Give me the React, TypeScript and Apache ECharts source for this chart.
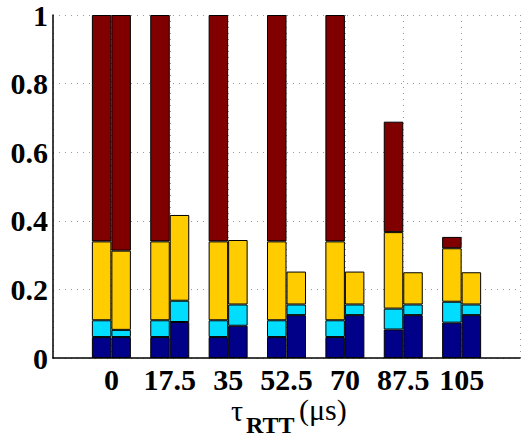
import React, { useEffect, useRef } from "react";
import * as echarts from "echarts";

// categories (tau_RTT in microseconds); outer empty entries pad the axis
const categories = ["", "0", "17.5", "35", "52.5", "70", "87.5", "105", ""];

// left bar of each pair: stacked segment heights
const leftNavy = [null, 0.061, 0.061, 0.061, 0.061, 0.061, 0.083, 0.103, null];
const leftCyan = [null, 0.049, 0.049, 0.049, 0.049, 0.049, 0.061, 0.061, null];
const leftGold = [null, 0.23, 0.23, 0.23, 0.23, 0.23, 0.223, 0.156, null];
const leftRed = [null, 0.66, 0.66, 0.66, 0.66, 0.66, 0.322, 0.033, null];

// right bar of each pair: stacked segment heights
const rightNavy = [null, 0.061, 0.105, 0.094, 0.125, 0.125, 0.125, 0.125, null];
const rightCyan = [null, 0.021, 0.062, 0.062, 0.031, 0.031, 0.031, 0.031, null];
const rightGold = [null, 0.231, 0.25, 0.188, 0.096, 0.096, 0.094, 0.094, null];
const rightRed = [null, 0.687, null, null, null, null, null, null, null];

const colors = { navy: "#000088", cyan: "#00DDFF", gold: "#FFCC00", red: "#800000" };
const serif = "Liberation Serif";

export default function App() {
  const ref = useRef<HTMLDivElement>(null);
  useEffect(() => {
    if (!ref.current) return;
    const chart = echarts.init(ref.current, null, { renderer: "svg" });
    const mk = (name: string, stack: string, data: any[], color: string) => ({
      name,
      type: "bar",
      stack,
      data,
      barWidth: 19.5,
      barGap: "0%",
      itemStyle: { color, borderColor: "#000", borderWidth: 1 },
    });
    chart.setOption({
      animation: false,
      grid: { left: 53, right: -7, top: 14, bottom: 79, containLabel: false },
      xAxis: {
        type: "category",
        data: categories,
        boundaryGap: false,
        axisLine: { show: true, lineStyle: { color: "#000", width: 1.5 } },
        axisTick: { show: false },
        axisLabel: {
          interval: 0,
          margin: 10,
          color: "#000",
          fontFamily: serif,
          fontWeight: "bold",
          fontSize: 30,
          lineHeight: 22,
        },
        splitLine: {
          show: true,
          interval: 0,
          lineStyle: { color: "#999", type: [1, 5], width: 1 },
        },
      },
      yAxis: {
        type: "value",
        min: 0,
        max: 1,
        interval: 0.2,
        axisLine: { show: true, lineStyle: { color: "#000", width: 1.5 } },
        axisTick: { show: false },
        axisLabel: {
          margin: 5,
          color: "#000",
          fontFamily: serif,
          fontWeight: "bold",
          fontSize: 30,
        },
        splitLine: {
          show: true,
          lineStyle: { color: "#999", type: [1, 5], width: 1 },
        },
      },
      graphic: [
        {
          type: "text",
          x: 231,
          y: 410,
          style: { text: "τ", font: "normal 30px Liberation Serif", lineHeight: 14, fill: "#000", align: "left", verticalAlign: "middle" },
        },
        {
          type: "text",
          x: 246,
          y: 425,
          style: { text: "RTT", font: "bold 24px Liberation Serif", lineHeight: 16, fill: "#000", align: "left", verticalAlign: "middle" },
        },
        {
          type: "text",
          x: 299,
          y: 409,
          style: { text: "(μs)", font: "normal 30px Liberation Serif", lineHeight: 18, fill: "#000", align: "left", verticalAlign: "middle" },
        },
      ],
      series: [
        mk("L1", "L", leftNavy, colors.navy),
        mk("L2", "L", leftCyan, colors.cyan),
        mk("L3", "L", leftGold, colors.gold),
        mk("L4", "L", leftRed, colors.red),
        mk("R1", "R", rightNavy, colors.navy),
        mk("R2", "R", rightCyan, colors.cyan),
        mk("R3", "R", rightGold, colors.gold),
        mk("R4", "R", rightRed, colors.red),
      ],
    });
    return () => chart.dispose();
  }, []);
  return (
    <div
      ref={ref}
      style={{ position: "fixed", left: 0, top: 0, width: 523, height: 437, background: "#fff" }}
    />
  );
}
